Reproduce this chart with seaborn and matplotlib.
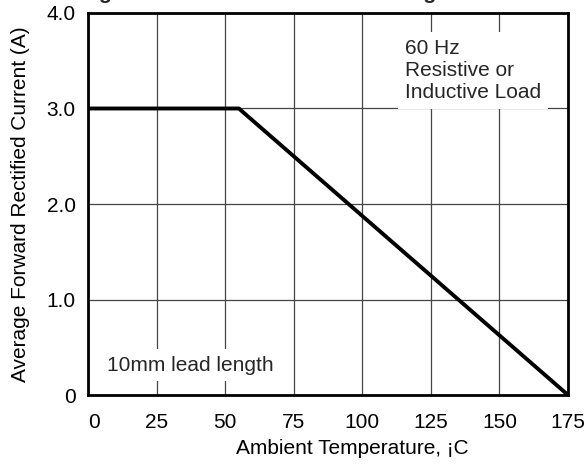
import matplotlib
matplotlib.use("Agg")
import matplotlib.pyplot as plt
import seaborn as sns
import pandas as pd

temperature = [0, 55, 175]
current = [3.0, 3.0, 0.0]
x_ticks = [0, 25, 50, 75, 100, 125, 150, 175]
y_ticks = [0, 1, 2, 3, 4]
y_tick_labels = ["0", "1.0", "2.0", "3.0", "4.0"]

sns.set_theme(style="white")
plt.rcParams['font.family'] = ['Liberation Sans', 'DejaVu Sans']

FS = 15

fig = plt.figure(figsize=(5.87, 4.65), dpi=100)
ax = fig.add_axes([88/587, 70/465, 480/587, 382/465])

df = pd.DataFrame({"T": temperature, "I": current})
sns.lineplot(data=df, x="T", y="I", ax=ax, color="black", linewidth=2.8, zorder=3)

ax.set_xlim(0, 175)
ax.set_ylim(0, 4)
ax.set_xticks(x_ticks)
ax.set_yticks(y_ticks)
ax.set_yticklabels(y_tick_labels)
ax.tick_params(axis="x", length=0, labelsize=FS, colors="black", pad=13)
ax.tick_params(axis="y", length=0, labelsize=FS, colors="black", pad=9)
ax.get_xticklabels()[0].set_ha("left")
ax.grid(True, color="#444444", linewidth=0.9)
for s in ax.spines.values():
    s.set_color("black")
    s.set_linewidth(2)
ax.set_xlabel("Ambient Temperature, ¡C", fontsize=FS, color="black", labelpad=5)
ax.xaxis.label.set_x(0.55)
ax.set_ylabel("Average Forward Rectified Current (A)", fontsize=FS, color="black", labelpad=12)

ax.text(115.5, 3.728, "60 Hz\nResistive or\nInductive Load", fontsize=FS, va="top", ha="left",
        linespacing=1.2, zorder=4,
        bbox=dict(facecolor="white", edgecolor="none", pad=5))
ax.text(6.9, 0.314, "10mm lead length", fontsize=FS, va="center", ha="left", zorder=4,
        bbox=dict(facecolor="white", edgecolor="none", pad=5))

fig.text(80/587, 1.003, "Figure 1. Forward Current Derating Curve", fontsize=15.4,
         fontweight="bold", ha="left", va="baseline")

fig.savefig("out.png", dpi=100)
